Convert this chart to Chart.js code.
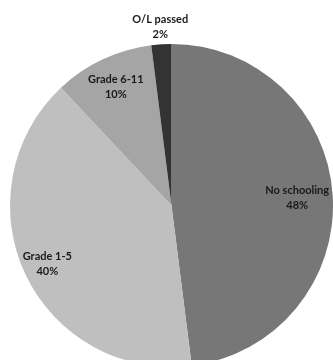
<!DOCTYPE html>
<html>
<head>
<meta charset="utf-8">
<script src="https://cdn.jsdelivr.net/npm/chart.js@4"></script>
<style>
	html, body { margin: 0; padding: 0; background: #ffffff; overflow: hidden; }
	#wrap { position: relative; width: 333px; height: 368px; }
</style>
</head>
<body>
<div id="wrap"><canvas id="pieChart"></canvas></div>
<script>
// Schooling levels (share of respondents, %)
const categories = ['No schooling', 'Grade 1-5', 'Grade 6-11', 'O/L passed'];
const shares = [48, 40, 10, 2];
const sliceColors = ['#777777', '#bfbfbf', '#a5a5a5', '#333333'];

// Label distance from centre, as a fraction of the radius
const labelRadius = [0.78, 0.85, 0.81, 1.11];

// Draw "category / value%" labels at each slice
const sliceLabels = {
	id: 'sliceLabels',
	afterDatasetsDraw(chart) {
		const ctx = chart.ctx;
		const meta = chart.getDatasetMeta(0);
		ctx.save();
		ctx.font = 'bold 11px Lato, "Open Sans", sans-serif';
		ctx.fillStyle = '#1a1a1a';
		ctx.textAlign = 'center';
		ctx.textBaseline = 'middle';
		meta.data.forEach((arc, i) => {
			const p = arc.getProps(['x', 'y', 'startAngle', 'endAngle', 'outerRadius'], true);
			const mid = (p.startAngle + p.endAngle) / 2;
			const r = p.outerRadius * labelRadius[i];
			const x = p.x + Math.cos(mid) * r;
			const y = p.y + Math.sin(mid) * r;
			ctx.fillText(categories[i], x, y - 7.5);
			ctx.fillText(shares[i] + '%', x, y + 7.5);
		});
		ctx.restore();
	}
};

const ctx = document.getElementById('pieChart').getContext('2d');
const pieChart = new Chart(ctx, {
	type: 'pie',
	data: {
		labels: categories,
		datasets: [{
			data: shares,
			backgroundColor: sliceColors,
			borderWidth: 0
		}]
	},
	options: {
		responsive: true,
		maintainAspectRatio: false,
		animation: false,
		layout: {
			padding: { left: 10, right: 0, top: 44, bottom: 1 }
		},
		plugins: {
			legend: { display: false },
			tooltip: { enabled: false }
		}
	},
	plugins: [sliceLabels]
});
</script>
</body>
</html>
